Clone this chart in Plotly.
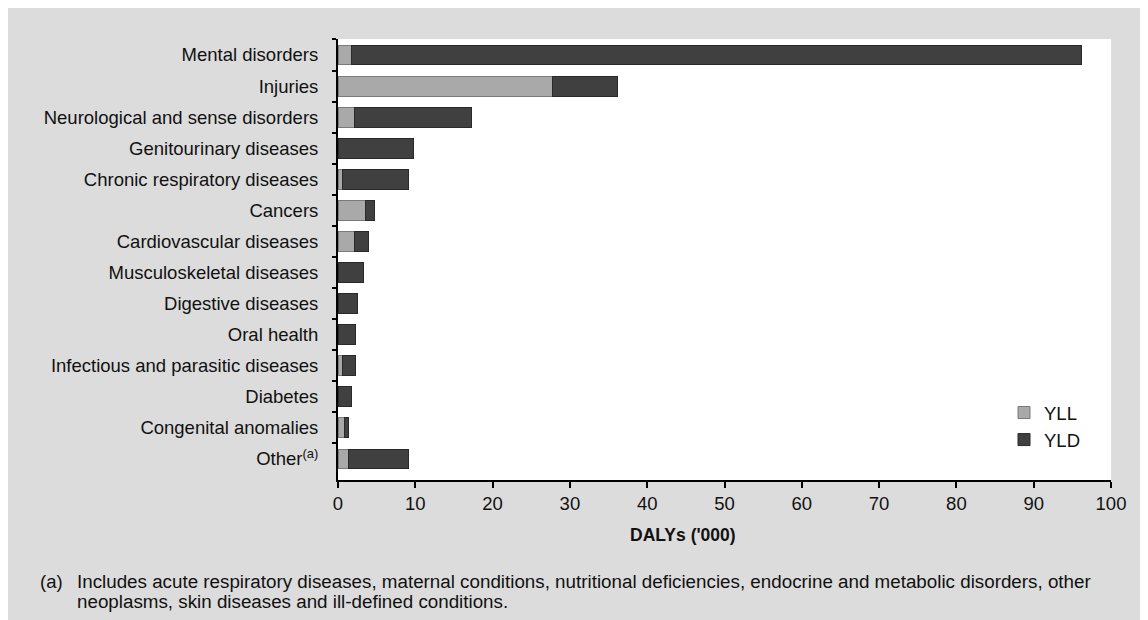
import plotly.graph_objects as go

categories = ["Mental disorders", "Injuries", "Neurological and sense disorders",
              "Genitourinary diseases", "Chronic respiratory diseases", "Cancers",
              "Cardiovascular diseases", "Musculoskeletal diseases", "Digestive diseases",
              "Oral health", "Infectious and parasitic diseases", "Diabetes",
              "Congenital anomalies", "Other<sup>(a)</sup>"]
yll = [1.8, 27.8, 2.1, 0.1, 0.6, 3.6, 2.1, 0.0, 0.0, 0.0, 0.6, 0.0, 0.9, 1.3]
total = [96.2, 36.2, 17.3, 9.8, 9.1, 4.7, 4.0, 3.3, 2.5, 2.3, 2.3, 1.8, 1.3, 9.1]
yld = [round(t - l, 2) for t, l in zip(total, yll)]

x_ticks = [0, 10, 20, 30, 40, 50, 60, 70, 80, 90, 100]
x_title = "DALYs ('000)"
footnote_1 = "Includes acute respiratory diseases, maternal conditions, nutritional deficiencies, endocrine and metabolic disorders, other"
footnote_2 = "neoplasms, skin diseases and ill-defined conditions."

FONT = "Arial, Liberation Sans, Helvetica, sans-serif"
OFF = 8  # page body margin

W, H = 1148, 620
# plot area in screen coordinates (as seen in the photographed page)
SX0, SX1, SY0, SY1 = 338, 1111, 39, 480
L, R, T, B = SX0 - OFF, W - (SX1 - OFF), SY0 - OFF, H - (SY1 - OFF)
pw, ph = SX1 - SX0, SY1 - SY0

def px(x):
    return (x - SX0) / pw

def py(y):
    return (SY1 - y) / ph

fig = go.Figure()
fig.add_trace(go.Bar(y=categories, x=yll, orientation="h", name="YLL",
                     marker=dict(color="#a9a9a9", line=dict(color="#7a7a7a", width=1)),
                     width=0.64))
fig.add_trace(go.Bar(y=categories, x=yld, orientation="h", name="YLD",
                     marker=dict(color="#404040", line=dict(color="#2a2a2a", width=1)),
                     width=0.64))

fig.update_layout(
    width=W, height=H, barmode="stack",
    margin=dict(l=L, r=R, t=T, b=B, pad=0),
    paper_bgcolor="#dcdcdc", plot_bgcolor="white",
    font=dict(family=FONT, size=18.5, color="#111111"),
    showlegend=True,
    legend=dict(x=px(1004), y=py(394), xanchor="left", yanchor="top",
                bgcolor="rgba(0,0,0,0)", font=dict(size=18.5), traceorder="normal",
                itemwidth=30, tracegroupgap=2),
    xaxis=dict(range=[0, 100], tickvals=x_ticks, showgrid=False, zeroline=False,
               showline=True, linecolor="black", linewidth=2, ticks="outside",
               ticklen=6, tickwidth=2, tickcolor="black", tickfont=dict(size=18.5),
               fixedrange=True),
    yaxis=dict(type="category", categoryorder="array", categoryarray=categories,
               range=[13.676, -0.515], showgrid=False, zeroline=False,
               showline=True, linecolor="black", linewidth=2, ticks="outside",
               tickson="boundaries", ticklen=4, tickwidth=2, tickcolor="black",
               tickfont=dict(size=18.5), ticklabelstandoff=14, fixedrange=True),
    annotations=[
        dict(text="<b>" + x_title + "</b>", xref="paper", yref="paper",
             x=px(683), y=py(535), showarrow=False, font=dict(size=17.5),
             xanchor="center", yanchor="middle"),
        dict(text="(a)", xref="paper", yref="paper", x=px(38), y=py(581),
             showarrow=False, xanchor="left", yanchor="middle", font=dict(size=18.5)),
        dict(text=footnote_1, xref="paper", yref="paper", x=px(75), y=py(581),
             showarrow=False, xanchor="left", yanchor="middle", font=dict(size=18.8)),
        dict(text=footnote_2, xref="paper", yref="paper", x=px(75), y=py(601),
             showarrow=False, xanchor="left", yanchor="middle", font=dict(size=18.8)),
    ],
)

fig.write_html("out.html")
